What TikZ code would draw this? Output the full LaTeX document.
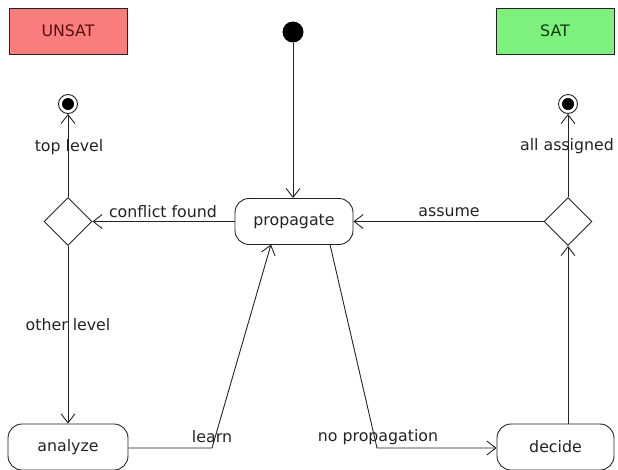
\documentclass[tikz,border=0pt]{standalone}
\usepackage{fontspec}
\setmainfont{DejaVu Sans}
\usetikzlibrary{shapes.geometric,arrows.meta}
\definecolor{unsatfill}{RGB}{250,125,125}
\definecolor{satfill}{RGB}{125,240,125}
\definecolor{unsattext}{RGB}{90,15,15}
\definecolor{sattext}{RGB}{15,60,15}
\definecolor{ink}{RGB}{35,35,35}
\tikzset{
  lbl/.style={font=\fontsize{15.8}{18}\selectfont, text=ink, inner sep=0pt},
  statebox/.style={draw=ink, line width=0.9pt, rounded corners=14pt, minimum height=46pt, inner sep=0pt, font=\fontsize{15.8}{18}\selectfont, text=ink},
  decision/.style={draw=ink, line width=0.9pt, diamond, aspect=1, minimum width=48pt, minimum height=48pt, inner sep=0pt},
  resbox/.style={draw=ink, line width=0.9pt, minimum width=118pt, minimum height=46pt, inner sep=0pt, font=\fontsize{15.8}{18}\selectfont},
  flow/.style={draw=ink, line width=0.9pt, -{Straight Barb[length=9pt,width=14pt,line width=0.9pt]}},
  plainline/.style={draw=ink, line width=0.9pt}
}
\begin{document}
\begin{tikzpicture}[x=1pt,y=-1pt]
\useasboundingbox (0,0) rectangle (618,469);
% result boxes
\node[resbox, fill=unsatfill, text=unsattext] (unsat) at (68,31) {UNSAT};
\node[resbox, fill=satfill, text=sattext] (sat) at (555,31) {SAT};
% initial and final states
\node[circle, fill=black, minimum size=21pt, inner sep=0pt] (init) at (293,32) {};
\node[circle, draw=ink, line width=0.9pt, fill=white, minimum size=19pt, inner sep=0pt] (fl) at (68,104) {};
\node[circle, fill=black, minimum size=12pt, inner sep=0pt] at (fl) {};
\node[circle, draw=ink, line width=0.9pt, fill=white, minimum size=19pt, inner sep=0pt] (fr) at (568,104) {};
\node[circle, fill=black, minimum size=12pt, inner sep=0pt] at (fr) {};
% states
\node[statebox, minimum width=118pt] (prop) at (294,221.5) {propagate};
\node[statebox, minimum width=120pt] (ana) at (68,447) {\raisebox{-3pt}{analyze}};
\node[statebox, minimum width=117pt] (dec) at (555.5,447) {\raisebox{-3pt}{decide}};
% decisions
\node[decision] (dl) at (68,221.5) {};
\node[decision] (dr) at (568,221.5) {};
% bend coordinates
\coordinate (lb) at (212,448);
\coordinate (nb) at (377,448);
% connectors
\draw[flow] (init) -- (prop.north -| init);
\draw[flow] (prop.west) -- (dl.east);
\draw[flow] (dl.north) -- (fl.south);
\draw[flow] (dl.south) -- (ana.north);
\draw[flow] (ana.east |- lb) -- (lb) -- (271,244.5);
\draw[flow] (330,244.5) -- (nb) -- (dec.west |- nb);
\draw[flow] (dec.north -| dr) -- (dr.south);
\draw[flow] (dr.west) -- (prop.east);
\draw[flow] (dr.north) -- (fr.south);
% labels
\node[lbl] at (163,212) {conflict found};
\node[lbl] at (449,212) {assume};
\node[lbl] at (69,147) {top level};
\node[lbl] at (567,146) {all assigned};
\node[lbl] at (68,325) {other level};
\node[lbl] at (212,437) {learn};
\node[lbl] at (378,437) {no propagation};
\end{tikzpicture}
\end{document}
